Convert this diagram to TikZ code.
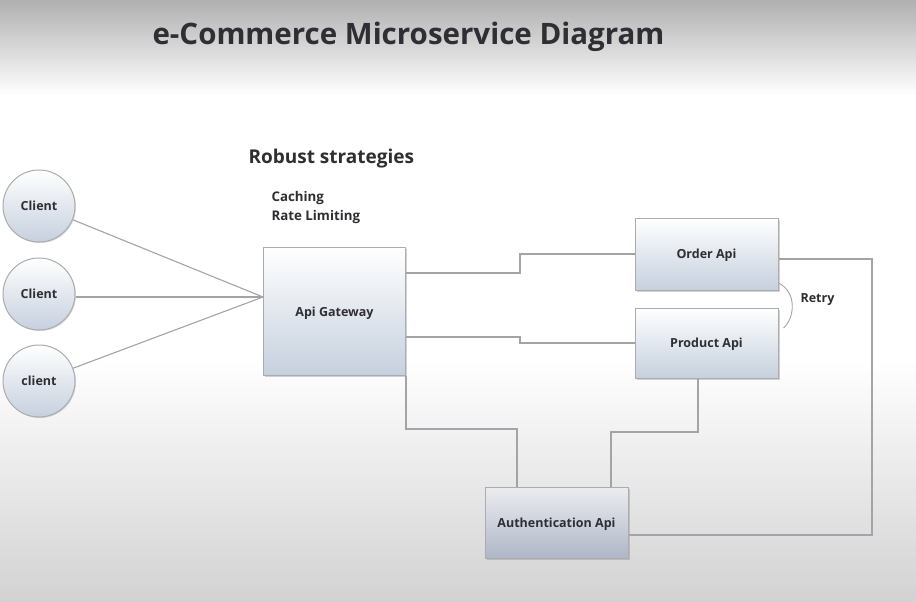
\documentclass[tikz,border=0pt]{standalone}
\usepackage{fontspec}
\setmainfont{Open Sans}
\usetikzlibrary{shadows}
\definecolor{txt}{HTML}{2E2E33}
\definecolor{wire}{HTML}{A4A4A8}
\definecolor{boxbot}{HTML}{C6D0DD}
\definecolor{authtop}{HTML}{ECECF0}
\definecolor{authbot}{HTML}{AEB7C6}
\definecolor{bgtop}{HTML}{B0B0B0}
\definecolor{bgbot}{HTML}{D2D2D2}
\begin{document}
\begin{tikzpicture}[x=1pt,y=-1pt,
  every node/.style={text=txt, font=\bfseries\fontsize{12.5}{14}\selectfont},
  svcbox/.style={draw=gray!65, line width=1pt, rectangle, top color=white, bottom color=boxbot,
    text depth=0pt, drop shadow={opacity=0.35, shadow xshift=1.5pt, shadow yshift=-1.5pt}},
  clientnode/.style={draw=gray!65, line width=1pt, circle, minimum size=72pt, inner sep=0pt,
    top color=white, bottom color=boxbot,
    drop shadow={opacity=0.3, shadow xshift=1pt, shadow yshift=-1pt}},
  wireline/.style={draw=wire, line width=1.1pt}]
\useasboundingbox (0,0) rectangle (916,602);
% background
\shade[top color=bgtop, bottom color=white] (0,0) rectangle (916,95);
\fill[white] (0,95) rectangle (916,360);
\shade[top color=white, bottom color=bgbot] (0,360) rectangle (916,602);
% texts
\node[font=\bfseries\fontsize{29.5}{34}\selectfont, anchor=west] (title) at (149,37) {e-Commerce Microservice Diagram};
\node[font=\bfseries\fontsize{19}{22}\selectfont, anchor=west] (robust) at (245,159) {Robust strategies};
\node[font=\bfseries\fontsize{13.3}{15}\selectfont, anchor=west] (cach) at (268,198) {Caching};
\node[font=\bfseries\fontsize{13.3}{15}\selectfont, anchor=west] (rate) at (268,217) {Rate Limiting};
% clients
\node[clientnode] (c1) at (39,206) {Client};
\node[clientnode] (c2) at (39,294) {Client};
\node[clientnode] (c3) at (39,381) {client};
% boxes
\node[svcbox, minimum width=142pt, minimum height=128pt] (gw) at (334.5,311.5) {Api Gateway};
\node[svcbox, minimum width=143pt, minimum height=72pt] (order) at (706.5,254) {Order Api};
\node[svcbox, minimum width=143pt, minimum height=70pt] (prod) at (706.5,343) {Product Api};
\node[svcbox, top color=authtop, bottom color=authbot, minimum width=143pt, minimum height=71pt] (auth) at (556.5,522.5) {Authentication Api};
\node[anchor=west] (retry) at (797,300) {Retry};
% connectors
\coordinate (gwin) at (263,297);
\draw[wireline] (c1) -- (gwin);
\draw[wireline] (c2.east |- gwin) -- (gwin);
\draw[wireline] (c3) -- (gwin);
\draw[wireline] ([yshift=38.5pt]gw.east) -- (520,273) |- (order.west);
\draw[wireline] ([yshift=-25.5pt]gw.east) -- (520,337) |- (prod.west);
\coordinate (a1) at ([xshift=-39.5pt]auth.north);
\coordinate (a2) at ([xshift=54.5pt]auth.north);
\draw[wireline] (gw.south east) |- (a1 |- 0,429) -- (a1);
\draw[wireline] ([xshift=-8.5pt]prod.south) |- (a2 |- 0,432) -- (a2);
\coordinate (rc) at (872,535);
\draw[wireline] ([yshift=-5pt]order.east) -| (rc) -- ([yshift=-12.5pt]auth.east);
\draw[wireline, line width=0.9pt] ([yshift=-29pt]order.east) .. controls (797,292) and (795,318) .. ([xshift=5pt,yshift=15pt]prod.east);
\end{tikzpicture}
\end{document}
